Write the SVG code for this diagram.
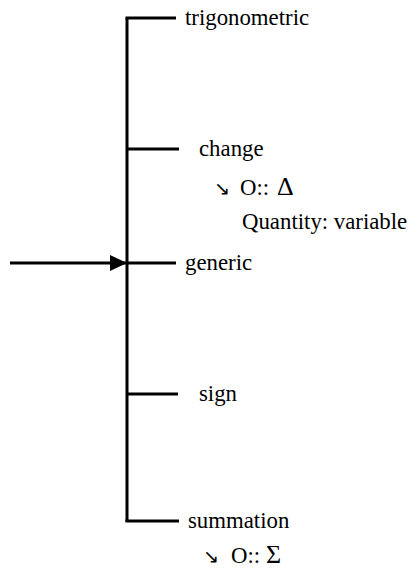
<svg xmlns="http://www.w3.org/2000/svg" width="411" height="571" viewBox="0 0 411 571">
<style>
.ln{stroke:#000;stroke-width:3;fill:none}
.t{font-family:"Liberation Serif","Times New Roman",serif;font-size:22.8px;fill:#000}
.ar{font-family:"DejaVu Sans",sans-serif;font-size:19px}
.big{font-size:26px}
</style>
<defs>
<marker id="ah" markerWidth="18" markerHeight="16" refX="17" refY="8" orient="auto" markerUnits="userSpaceOnUse">
<path d="M0,0 L17,8 L0,16 Z" fill="#000"/>
</marker>
</defs>
<g id="connectors">
<line class="ln" x1="127" y1="18" x2="127" y2="522"/>
<line class="ln" x1="125.5" y1="18" x2="176" y2="18"/>
<line class="ln" x1="127" y1="149" x2="179" y2="149"/>
<line class="ln" x1="127" y1="263" x2="176" y2="263"/>
<line class="ln" x1="127" y1="394" x2="178" y2="394"/>
<line class="ln" x1="125.5" y1="521" x2="179" y2="521"/>
<line class="ln" x1="10" y1="263" x2="127" y2="263" marker-end="url(#ah)"/>
</g>
<g id="trigonometric"><text class="t" x="185" y="25">trigonometric</text></g>
<g id="change">
<text class="t" x="199" y="156">change</text>
<text class="t" x="214" y="195"><tspan class="ar">↘</tspan><tspan x="240">O:: </tspan><tspan class="big" x="277">Δ</tspan></text>
<text class="t" x="242" y="229">Quantity: variable</text>
</g>
<g id="generic"><text class="t" x="185" y="270">generic</text></g>
<g id="sign"><text class="t" x="199" y="401">sign</text></g>
<g id="summation">
<text class="t" x="188" y="528">summation</text>
<text class="t" x="203" y="563"><tspan class="ar">↘</tspan><tspan x="231">O:: </tspan><tspan class="big" x="266">Σ</tspan></text>
</g>
</svg>
